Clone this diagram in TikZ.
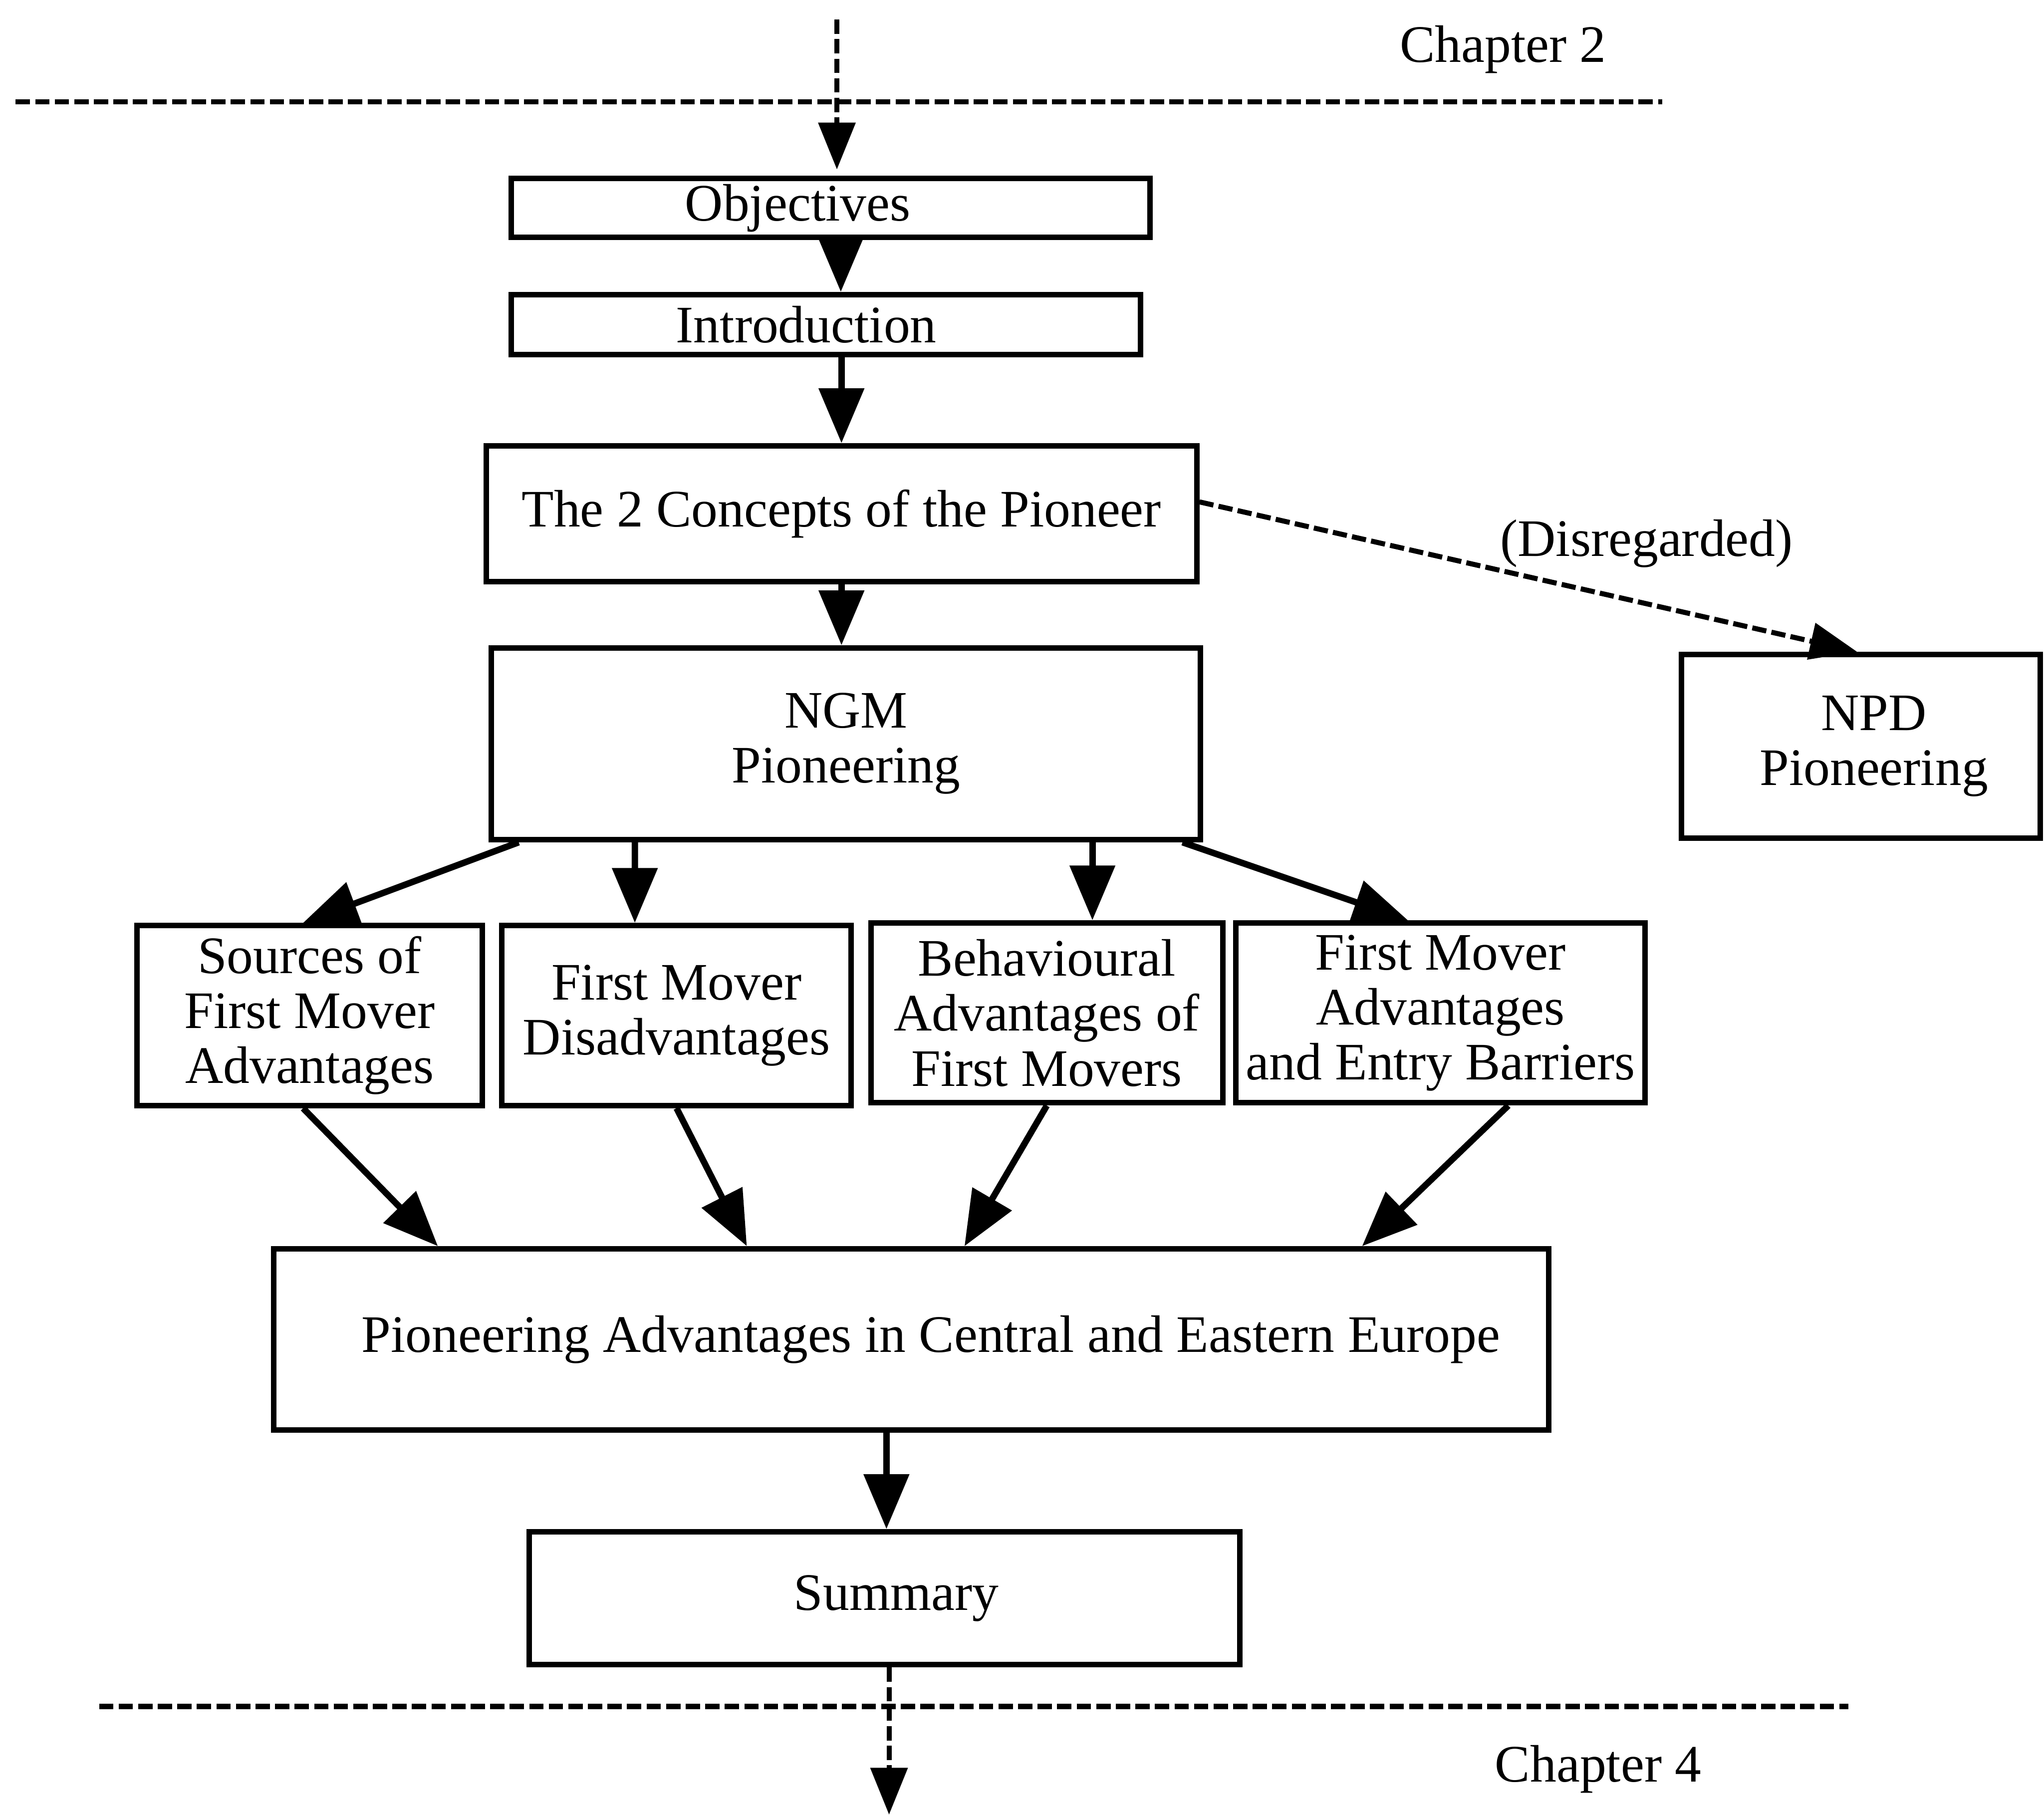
\documentclass[tikz,border=0pt]{standalone}
\usepackage{fontspec}
\setmainfont{Liberation Serif}
\usetikzlibrary{arrows.meta}

\begin{document}
\begin{tikzpicture}[
        box/.style={draw, line width=1.2pt, align=center, inner sep=0pt, font=\fontsize{11.5}{12}\selectfont},
        arr/.style={line width=1.4pt, -{Triangle[length=0.42cm, width=0.34cm]}},
        darr/.style={line width=1.1pt, dash pattern=on 0.11cm off 0.04cm, -{Triangle[length=0.36cm, width=0.28cm]}},
        chapline/.style={line width=1.1pt, dash pattern=on 0.11cm off 0.04cm},
        lbl/.style={font=\fontsize{11.5}{12}\selectfont}
    ]
        \useasboundingbox (0, 0) rectangle (15.68, 13.96);

        % Chapter boundaries
        \draw[chapline] (0.12, 13.18) -- (12.75, 13.18);
        \draw[chapline] (0.76, 0.87) -- (14.18, 0.87);
        \node[lbl] (chtwo) at (11.53, 13.58) {Chapter 2};
        \node[lbl] (chfour) at (12.26, 0.39) {Chapter 4};
        \coordinate (intop) at (6.42, 13.81);
        \coordinate (intip) at (6.42, 12.66);

        % Main column
        \node[box, minimum width=4.90cm, minimum height=0.45cm] (obj) at (6.37, 12.365) {\hspace*{-0.5cm}Objectives};
        \node[box, minimum width=4.83cm, minimum height=0.46cm] (intro) at (6.335, 11.47) {\hspace*{-0.3cm}Introduction};
        \node[box, minimum width=5.45cm, minimum height=1.04cm] (concepts) at (6.455, 10.02) {The 2 Concepts of the Pioneer};
        \node[box, minimum width=5.44cm, minimum height=1.47cm] (ngm) at (6.49, 8.255) {NGM\\Pioneering};
        \node[box, minimum width=2.75cm, minimum height=1.41cm] (npd) at (14.275, 8.235) {\hspace*{0.2cm}NPD\\\hspace*{0.2cm}Pioneering};

        % Four branches
        \node[box, minimum width=2.65cm, minimum height=1.38cm] (sources) at (2.375, 6.17) {Sources of\\First Mover\\Advantages};
        \node[box, minimum width=2.68cm, minimum height=1.38cm] (disadv) at (5.19, 6.17) {First Mover\\Disadvantages};
        \node[box, minimum width=2.70cm, minimum height=1.38cm] (behav) at (8.03, 6.19) {Behavioural\\Advantages of\\First Movers};
        \node[box, minimum width=3.14cm, minimum height=1.38cm] (barriers) at (11.05, 6.19) {First Mover\\Advantages\\and Entry Barriers};

        % Bottom column
        \node[box, minimum width=9.78cm, minimum height=1.39cm] (cee) at (6.99, 3.685) {\hspace*{0.3cm}Pioneering Advantages in Central and Eastern Europe};
        \node[box, minimum width=5.45cm, minimum height=1.02cm] (summary) at (6.785, 1.70) {\hspace*{0.18cm}Summary};
        \coordinate (outtip) at (6.82, 0.04);

        % Arrows
        \draw[darr] (intop) -- (intip);
        \draw[arr] (obj.south -| 6.45, 0) -- (6.45, 0 |- intro.north);
        \draw[arr] (intro.south -| concepts.north) -- (concepts.north);
        \draw[arr] (concepts.south) -- (concepts.south |- ngm.north);
        \draw[darr] ([yshift=0.09cm]concepts.east) -- node[lbl, pos=0.68, above=0.14cm] {(Disregarded)} ([xshift=-0.03cm]npd.north);
        \draw[arr] ([xshift=0.23cm]ngm.south west) -- ([xshift=-0.05cm]sources.north);
        \draw[arr] ([xshift=-1.62cm]ngm.south) -- ([xshift=-0.32cm]disadv.north);
        \draw[arr] ([xshift=1.89cm]ngm.south) -- ([xshift=0.35cm]behav.north);
        \draw[arr] ([xshift=-0.16cm]ngm.south east) -- ([xshift=-0.25cm]barriers.north);
        \draw[arr] ([xshift=-0.05cm]sources.south) -- ([xshift=1.28cm]cee.north west);
        \draw[arr] (disadv.south) -- ([xshift=3.65cm]cee.north west);
        \draw[arr] (behav.south) -- ([xshift=5.32cm]cee.north west);
        \draw[arr] ([xshift=0.52cm]barriers.south) -- ([xshift=8.37cm]cee.north west);
        \draw[arr] (cee.south -| 6.80, 0) -- (6.80, 0 |- summary.north);
        \draw[darr] (summary.south -| outtip) -- (outtip);

    \end{tikzpicture}
\end{document}
